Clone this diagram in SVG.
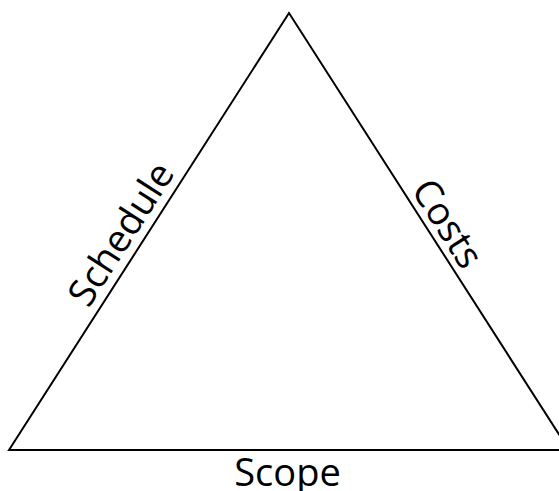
<svg xmlns="http://www.w3.org/2000/svg" width="559" height="491" viewBox="0 0 559 491">
  <style>
    .edge { fill: none; stroke: #000; stroke-width: 2; stroke-linejoin: miter; }
    .lbl { font-family: "Open Sans", "Liberation Sans", sans-serif; font-size: 38px; fill: #000; text-anchor: middle; }
  </style>
  <rect width="559" height="491" fill="#fff"/>
  <g id="connectors">
    <path class="edge" d="M 9 450 L 289 13 L 569 450 Z"/>
  </g>
  <g id="schedule">
    <text class="lbl" transform="translate(132 241) rotate(-57.4)">Schedule</text>
  </g>
  <g id="costs">
    <text class="lbl" transform="translate(436.5 230.5) rotate(57.4)">Costs</text>
  </g>
  <g id="scope">
    <text class="lbl" x="287.5" y="486">Scope</text>
  </g>
</svg>
